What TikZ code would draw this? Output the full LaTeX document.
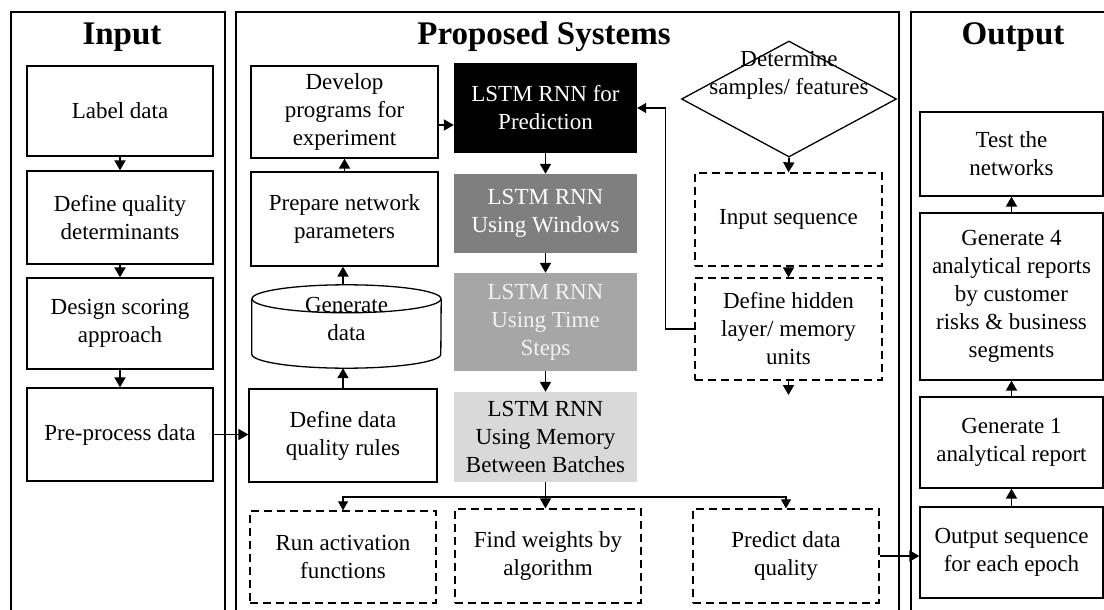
\documentclass[tikz,border=0pt]{standalone}
\usepackage{fontspec}
\setmainfont{Liberation Serif}
\usetikzlibrary{positioning, arrows.meta, shapes.geometric}
\definecolor{lstmdark}{RGB}{0,0,0}
\definecolor{lstmmid}{RGB}{127,127,127}
\definecolor{lstmgray}{RGB}{166,166,166}
\definecolor{lstmlight}{RGB}{217,217,217}

\begin{document}
\begin{tikzpicture}[x=1pt, y=-1pt,
  font=\fontsize{23}{28}\selectfont,
  panel/.style={draw, line width=1.6pt},
  title/.style={font=\fontsize{33}{36}\selectfont\bfseries},
  stepbox/.style={draw, line width=1.3pt, align=center, inner sep=0pt, minimum width=186},
  dashbox/.style={stepbox, dash pattern=on 8pt off 5pt},
  lstm/.style={fill=#1, align=center, inner sep=0pt, minimum width=183},
  arrow/.style={-{Triangle[length=10pt,width=11pt]}, line width=1.8pt},
  thinarrow/.style={-{Triangle[length=9pt,width=10pt]}, line width=1.2pt}
]
  \useasboundingbox[fill=white] (0,0) rectangle (1104,610);
  % panels
  \draw[panel] (11,615) -- (11,12) -- (225,12) -- (225,615);
  \draw[panel] (236,615) -- (236,12) -- (899,12) -- (899,615);
  \draw[panel] (911,615) -- (911,12) -- (1115,12);
  \node[title] (ttlin) at (122,37) {Input};
  \node[title] (ttlsys) at (544,37) {Proposed Systems};
  \node[title] (ttlout) at (1013,37) {Output};

  % input column
  \node[stepbox, minimum height=90] (lab) at (120,111) {Label data};
  \node[stepbox, minimum height=93] (qual) at (120,217.5) {Define quality\\determinants};
  \node[stepbox, minimum height=91] (score) at (120,323.5) {Design scoring\\approach};
  \node[stepbox, minimum height=93] (prep) at (120,434.5) {Pre-process data};

  % proposed system, left column
  \node[stepbox, minimum width=187, minimum height=92] (dev) at (344.5,112) {Develop\\programs for\\experiment};
  \node[stepbox, minimum width=187, minimum height=94] (par) at (344.5,219) {Prepare network\\parameters};
  \node[inner sep=0pt, minimum width=189, minimum height=83,
        label={[align=center, yshift=8pt]center:Generate\\data}] (gen) at (346.5,326.5) {};
  \draw[line width=1.3pt] ([yshift=-14pt]gen.north west) -- ([yshift=14pt]gen.south west)
    arc (180:360:94.5pt and 14pt) -- ([yshift=-14pt]gen.north east);
  \draw[line width=1.3pt] ([yshift=-14pt]gen.north) ellipse (94.5pt and 14pt);
  \node[stepbox, minimum width=188, minimum height=93] (rules) at (343,435.5) {Define data\\quality rules};

  % LSTM column
  \node[lstm=lstmdark, text=white, minimum height=90] (lstmA) at (545.5,108) {LSTM RNN for\\Prediction};
  \node[lstm=lstmmid, text=white, minimum height=79] (lstmB) at (545.5,213.5) {LSTM RNN\\Using Windows};
  \node[lstm=lstmgray, text=white!95!black, minimum height=98] (lstmC) at (545.5,322) {LSTM RNN\\Using Time\\Steps};
  \node[lstm=lstmlight, minimum height=90] (lstmD) at (545.5,437) {LSTM RNN\\Using Memory\\Between Batches};

  % right column
  \node[diamond, draw, line width=1.3pt, aspect=2, inner sep=-20pt,
        minimum width=215, minimum height=116] (det) at (789,99) {};
  \node[align=center, inner sep=0pt] (detlbl) at (789,75) {Determine\\samples/ features};
  \node[dashbox, minimum width=187, minimum height=93] (inp) at (788.5,219.5) {Input sequence};
  \node[dashbox, minimum width=187, minimum height=102] (hid) at (788.5,329) {Define hidden\\layer/ memory\\units};
  \coordinate (hidout) at (789,395);

  % bottom row
  \node[dashbox, minimum height=92] (run) at (343,557) {Run activation\\functions};
  \node[dashbox, minimum height=94] (fw) at (548,556) {Find weights by\\algorithm};
  \node[dashbox, minimum height=94] (pred) at (786,556) {Predict data\\quality};
  \coordinate (bus) at (545.5,497);

  % output column
  \node[stepbox, minimum width=183, minimum height=84] (test) at (1011.5,154) {Test the\\networks};
  \node[stepbox, minimum width=183, minimum height=167] (gfour) at (1011.5,296.5) {Generate 4\\analytical reports\\by customer\\risks \& business\\segments};
  \node[stepbox, minimum width=183, minimum height=91] (gone) at (1011.5,442.5) {Generate 1\\analytical report};
  \node[stepbox, minimum width=183, minimum height=91] (oseq) at (1011.5,552.5) {Output sequence\\for each epoch};

  % connectors
  \draw[arrow] (lab) -- (qual);
  \draw[arrow] (qual) -- (score);
  \draw[arrow] (score) -- (prep);
  \draw[arrow] (prep.east) -- (prep.east -| rules.west);
  \draw[arrow] (rules.north) -- (rules.north |- gen.south);
  \draw[arrow] (rules.north |- gen.north) -- (rules.north |- par.south);
  \draw[arrow] (par) -- (dev);
  \coordinate (devout) at ([yshift=-13pt]dev.east);
  \draw[arrow] (devout) -- (devout -| lstmA.west);
  \draw[arrow] (lstmA) -- (lstmB);
  \draw[arrow] (lstmB) -- (lstmC);
  \draw[arrow] (lstmC) -- (lstmD);
  \draw[arrow] (det.south) -- (inp.north);
  \draw[arrow] (inp) -- (hid);
  \draw[arrow] (hid.south) -- (hid.south |- hidout);
  \draw[thinarrow] (hid.west) -- ++(-29,0) |- (lstmA.east);
  \draw[arrow] (lstmD.south) -- (lstmD.south |- fw.north);
  \draw[thinarrow] (bus) -| (run.north);
  \draw[thinarrow] (bus) -| (pred.north);
  \draw[arrow] (pred.east) -- (pred.east -| oseq.west);
  \draw[arrow] (oseq) -- (gone);
  \draw[arrow] (gone) -- (gfour);
  \draw[arrow] (gfour) -- (test);
\end{tikzpicture}
\end{document}
